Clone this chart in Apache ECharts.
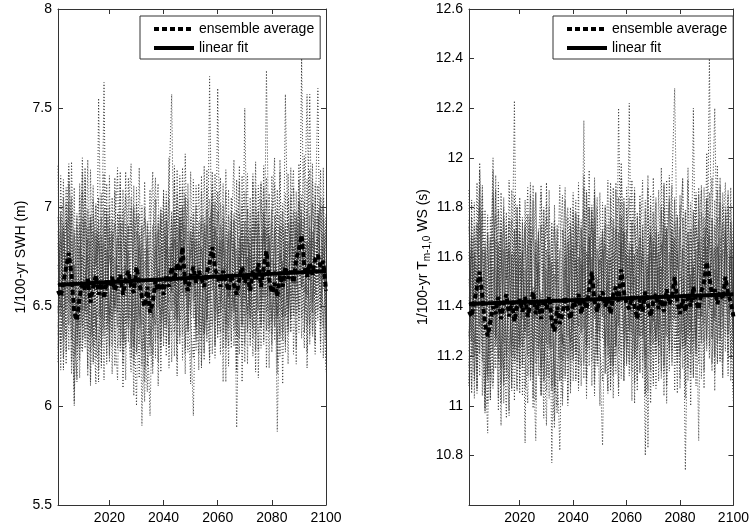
<!DOCTYPE html>
<html><head><meta charset="utf-8">
<script src="https://cdn.jsdelivr.net/npm/echarts@6/dist/echarts.min.js"></script>
<style>html,body{margin:0;padding:0;background:#fff}#c{width:752px;height:528px}</style>
</head><body><div id="c"></div>
<script>
const startYear = 2001, endYear = 2100;
const xTicks = [2020, 2040, 2060, 2080, 2100];
const yTicksL = [5.5, 6, 6.5, 7, 7.5, 8];
const yTicksR = [10.8, 11, 11.2, 11.4, 11.6, 11.8, 12, 12.2, 12.4, 12.6];
const legendNames = ['ensemble average', 'linear fit'];
const yNameL = '1/100-yr SWH (m)';

// left panel: ensemble average
const avgL = [
6.58,6.55,6.62,6.70,6.77,6.66,6.47,6.43,6.55,6.62,
6.58,6.64,6.52,6.60,6.66,6.56,6.62,6.54,6.63,6.60,
6.65,6.58,6.62,6.66,6.56,6.64,6.68,6.60,6.57,6.70,
6.62,6.55,6.50,6.60,6.47,6.52,6.63,6.58,6.64,6.56,
6.66,6.60,6.70,6.63,6.72,6.68,6.80,6.62,6.58,6.66,
6.70,6.62,6.68,6.64,6.60,6.67,6.72,6.80,6.69,6.65,
6.60,6.68,6.63,6.58,6.66,6.61,6.56,6.64,6.70,6.62,
6.66,6.58,6.68,6.63,6.72,6.60,6.70,6.78,6.64,6.57,
6.62,6.55,6.66,6.60,6.70,6.64,6.68,6.62,6.74,6.79,
6.86,6.70,6.65,6.72,6.66,6.74,6.76,6.70,6.73,6.58];
const fitL = [6.61, 6.68];
const m1L = [
6.82,6.31,7.05,6.48,6.95,6.22,6.71,6.40,7.12,6.55,
6.34,6.90,6.27,6.78,7.02,6.45,6.61,7.63,6.38,6.85,
6.52,7.08,6.29,6.66,6.93,6.41,7.15,6.58,6.20,6.74,
6.97,5.90,6.63,6.85,6.36,6.72,7.04,6.49,6.81,6.30,
6.68,7.11,7.57,6.44,6.90,6.35,7.20,6.62,6.27,6.95,
6.53,6.84,6.41,7.08,6.69,6.32,7.66,6.58,6.88,6.46,
7.02,6.37,6.79,6.55,6.98,6.30,6.72,7.13,6.50,6.86,
6.39,7.05,6.62,6.93,6.28,6.81,7.10,6.47,6.75,6.99,
6.33,6.70,7.18,6.52,6.89,6.40,7.06,6.61,6.95,6.48,
7.75,6.57,6.82,6.36,7.14,6.68,6.43,7.01,6.59,6.88];
const m2L = [
6.40,6.95,6.18,6.86,7.22,6.57,6.02,6.91,6.45,7.08,
6.72,6.19,6.83,6.50,6.11,7.55,6.68,6.35,6.94,6.42,
6.88,6.33,6.97,6.49,6.21,6.86,6.44,7.05,6.73,6.26,
6.58,6.91,6.12,6.67,7.09,6.38,6.54,6.96,6.28,6.79,
7.03,6.47,6.36,6.99,6.55,7.16,6.48,6.82,7.04,6.40,
5.95,6.71,7.12,6.38,6.92,6.59,6.24,6.97,6.43,7.08,
6.65,7.12,6.29,6.84,6.48,6.93,5.89,6.66,7.01,6.45,
6.90,6.51,7.17,6.36,6.74,7.04,6.42,7.69,6.60,6.31,
6.96,5.87,6.64,7.02,6.45,6.83,6.55,7.10,6.69,7.03,
6.44,6.93,7.57,6.70,6.38,7.06,6.78,6.49,6.94,6.33];
const m3L = [
6.71,6.50,6.88,6.27,6.60,7.05,6.38,6.14,6.80,6.33,
7.15,6.46,6.92,6.21,6.67,6.94,6.30,6.82,6.56,7.01,
6.37,6.75,6.52,7.12,6.43,6.29,6.90,6.36,6.99,6.48,
6.31,6.78,6.95,6.40,5.95,6.63,6.87,6.22,6.73,7.06,
6.42,6.80,6.58,7.14,6.31,6.88,6.57,7.07,6.49,6.77,
6.91,6.33,6.74,6.96,6.36,7.10,6.52,6.86,6.30,7.60,
6.44,6.76,7.08,6.39,6.88,6.62,6.35,6.97,6.41,7.50,
6.58,6.82,6.34,7.09,6.67,6.42,6.91,6.72,6.37,6.85,
7.12,6.46,6.78,6.33,7.57,6.71,6.44,6.98,6.53,6.81,
7.06,6.37,6.69,7.57,6.52,6.90,7.60,6.41,6.77,6.56];
const m4L = [
6.29,6.88,6.55,7.10,6.41,6.83,6.58,6.97,6.23,6.76,
6.48,6.99,6.60,6.35,6.86,6.18,7.07,6.43,6.79,6.25,
6.94,6.47,6.71,6.30,6.84,7.06,6.39,6.66,6.05,7.10,
6.45,6.62,6.28,6.93,6.57,6.20,6.70,6.88,6.42,6.97,
6.31,6.74,6.95,6.37,6.82,6.55,6.92,6.29,6.71,6.50,
6.83,6.47,6.26,6.79,6.58,6.91,6.68,6.40,7.02,6.36,
6.80,6.49,6.93,6.71,6.33,6.85,6.58,6.26,6.89,6.61,
7.02,6.30,6.76,6.52,7.11,6.39,6.88,6.55,6.96,6.27,
6.72,6.58,6.35,6.91,6.62,7.04,6.37,6.80,6.46,7.22,
6.60,6.95,6.40,6.84,6.73,6.31,6.97,6.66,6.48,6.21];
const m5L = [
6.95,6.62,6.33,6.77,6.52,6.98,6.00,6.71,6.88,6.29,
6.63,6.84,6.12,7.04,6.40,6.70,6.95,6.51,6.26,6.90,
6.44,6.61,6.85,6.37,7.09,6.55,6.78,6.24,6.82,6.96,
6.70,6.35,6.02,6.79,6.46,6.91,6.32,6.75,7.00,6.53,
6.86,6.29,6.77,6.60,7.03,6.43,6.99,6.71,6.38,6.88,
6.60,7.01,6.55,6.33,6.95,6.44,6.81,7.12,6.65,6.52,
6.37,6.95,6.57,6.30,7.05,6.47,6.79,6.60,6.92,6.31,
6.75,6.44,6.99,6.66,6.48,7.13,6.55,6.87,6.60,6.42,
6.59,6.99,6.48,6.73,6.31,6.92,6.81,6.45,7.08,6.66,
6.98,6.47,6.75,6.63,7.02,6.56,6.88,7.05,6.39,6.70];
const m6L = [
6.50,6.27,6.80,6.93,6.71,6.44,6.86,6.30,6.62,7.25,
6.56,6.39,6.95,6.73,6.47,6.12,6.81,6.58,7.00,6.46,
6.79,6.92,6.40,6.83,6.55,6.71,6.32,6.93,6.49,6.00,
6.87,6.54,6.73,6.20,6.62,6.45,6.81,6.57,6.94,6.39,
6.97,6.52,6.85,6.73,6.44,7.00,6.64,6.91,6.41,6.79,
6.72,6.40,6.93,6.66,6.23,6.85,7.04,6.62,6.90,6.77,
6.52,6.84,6.41,6.96,6.70,6.38,6.99,6.55,6.82,6.67,
6.46,6.89,6.58,7.00,6.77,6.49,6.66,7.04,6.55,6.92,
6.44,6.79,6.90,6.58,6.76,6.49,6.95,6.72,6.60,6.92,
6.70,6.84,6.56,6.96,6.47,6.83,6.61,6.92,7.01,6.45];
const m7L = [
6.36,6.74,6.92,6.60,7.18,6.88,6.25,6.54,6.41,6.83,
6.97,6.70,6.48,6.30,6.89,6.62,6.44,6.91,6.69,6.37,
6.75,6.50,6.88,6.96,6.33,6.69,6.91,6.45,6.52,7.02,
6.67,6.28,6.45,6.57,6.30,6.49,6.41,6.69,6.58,6.43,
6.79,6.63,6.92,6.51,7.07,6.83,6.95,6.57,6.66,6.46,
6.88,6.65,6.70,6.51,6.36,6.47,6.93,7.02,6.74,6.40,
6.58,6.70,6.66,6.49,6.72,6.82,6.40,6.75,6.63,6.54,
6.85,6.60,6.53,6.46,6.92,6.57,6.71,6.94,6.82,6.59,
6.68,6.44,6.60,6.45,6.64,6.70,6.77,6.47,6.88,6.76,
6.91,6.72,6.54,6.68,6.80,6.94,6.71,6.64,6.80,6.60];
const m8L = [
6.61,6.83,6.40,6.77,7.03,6.60,6.71,6.48,6.36,6.27,
6.52,6.76,6.35,6.96,6.71,6.83,6.53,6.39,6.60,6.76,
6.62,6.50,6.77,6.92,6.41,6.82,6.69,6.63,6.30,6.65,
6.80,6.58,6.79,6.60,6.55,6.44,6.91,6.56,6.46,6.61,
6.93,6.68,6.57,6.84,6.60,6.71,7.01,6.55,6.69,6.85,
6.74,6.55,6.68,6.80,6.61,6.52,6.55,7.18,6.80,6.71,
6.83,6.57,6.72,6.55,6.63,6.49,6.65,6.77,6.89,6.56,
6.48,6.72,6.85,6.73,6.66,6.54,6.97,6.69,6.40,6.74,
6.62,6.45,6.77,6.67,6.93,6.47,6.86,6.70,6.62,7.04,
6.59,6.73,6.83,6.70,6.88,6.62,6.85,6.79,6.64,6.95];
const m9L = [
7.21,6.18,6.90,6.35,7.12,6.47,6.08,6.95,6.29,7.18,
6.45,7.24,6.10,6.88,6.33,7.05,6.22,6.99,6.41,7.16,
6.16,6.84,7.20,6.27,6.70,6.13,6.96,7.22,6.38,6.79,
6.14,7.01,6.33,6.07,6.83,7.18,6.24,6.92,6.17,7.09,
6.40,7.25,6.22,6.94,6.15,7.10,6.36,7.27,6.58,6.11,
7.14,6.28,6.88,6.19,7.21,6.43,6.95,6.26,7.17,6.34,
6.91,6.12,7.19,6.42,6.85,7.24,6.17,6.79,6.30,7.08,
6.21,6.97,6.39,7.23,6.14,6.86,6.31,7.15,6.48,6.95,
7.25,6.22,6.91,6.11,7.07,6.38,7.20,6.26,6.89,6.43,
6.98,7.26,6.19,6.90,6.35,7.12,6.48,7.19,6.24,6.97];
const m10L = [
6.22,7.16,6.45,7.02,6.28,7.23,6.54,6.12,7.06,6.40,
6.93,6.15,7.19,6.44,7.01,6.26,6.86,6.13,7.12,6.30,
7.05,6.20,6.63,7.18,6.09,6.92,6.38,6.17,7.11,6.27,
7.20,6.41,7.00,6.70,6.25,6.82,7.15,6.10,6.97,6.35,
7.08,6.19,6.82,6.25,7.19,6.31,6.84,6.16,7.12,6.40,
6.24,6.90,6.18,7.16,6.37,6.99,6.21,6.91,6.48,6.98,
6.26,7.01,6.12,7.09,6.29,6.94,6.47,7.21,6.12,6.84,
7.17,6.33,6.91,6.17,6.98,6.29,7.21,6.19,7.07,6.36,
6.90,6.16,7.24,6.37,6.83,6.21,6.99,7.19,6.29,6.88,
6.34,7.03,6.27,7.19,6.57,6.26,7.11,6.32,7.20,6.17];
const m11L = [
6.88,6.45,7.14,6.21,6.86,6.33,7.10,6.26,6.92,6.48,
7.20,6.32,6.74,7.11,6.24,6.87,6.36,7.17,6.21,6.96,
6.30,7.15,6.47,6.92,6.26,7.18,6.55,6.29,7.01,6.42,
6.86,6.20,7.13,6.49,6.88,6.26,6.95,7.12,6.33,6.90,
6.25,7.04,6.48,7.21,6.42,6.95,6.23,7.05,6.37,7.18,
6.44,7.11,6.36,6.92,6.27,7.19,6.38,7.07,6.31,6.89,
7.15,6.29,6.86,6.20,6.93,6.52,7.14,6.34,7.16,6.22,
6.99,6.41,7.13,6.28,6.96,7.12,6.33,6.90,6.19,7.16,
6.40,7.09,6.25,6.98,6.27,7.17,6.38,6.93,6.21,7.14,
6.55,6.29,7.14,6.41,7.22,6.33,6.96,6.27,7.05,6.42];
const m12L = [
6.47,6.98,6.24,6.62,7.00,6.16,6.89,6.58,6.14,6.95,
6.29,6.81,6.96,6.22,6.75,6.91,6.19,6.68,6.97,6.22,
6.86,6.38,6.13,6.81,6.99,6.31,6.76,7.00,6.24,6.88,
6.39,6.82,6.18,6.91,6.41,6.16,6.78,6.34,6.99,6.46,
6.83,6.31,6.98,6.66,6.23,6.79,7.10,6.26,6.88,6.57,
6.97,6.39,6.83,6.21,6.87,6.35,6.80,6.99,6.24,6.85,
6.47,6.90,6.33,6.88,6.44,6.97,6.18,6.85,6.40,6.93,
6.37,6.79,6.25,6.95,6.51,6.40,6.99,6.38,6.86,6.44,
6.88,6.32,6.96,6.45,6.79,6.36,6.92,6.53,6.98,6.37,
6.94,6.42,6.99,6.31,6.85,6.46,6.99,6.53,6.87,6.33];

// right panel
const avgR = [
11.38,11.36,11.42,11.48,11.54,11.44,11.33,11.28,11.34,11.40,
11.37,11.44,11.35,11.41,11.45,11.36,11.42,11.34,11.40,11.43,
11.38,11.44,11.36,11.41,11.46,11.37,11.42,11.35,11.43,11.39,
11.44,11.34,11.30,11.40,11.33,11.37,11.44,11.39,11.35,11.42,
11.40,11.45,11.37,11.43,11.39,11.47,11.54,11.42,11.38,11.44,
11.46,11.40,11.43,11.37,11.45,11.48,11.42,11.55,11.46,11.41,
11.39,11.44,11.40,11.35,11.43,11.38,11.46,11.41,11.36,11.42,
11.45,11.39,11.43,11.38,11.47,11.41,11.44,11.52,11.42,11.37,
11.43,11.38,11.45,11.40,11.48,11.42,11.39,11.46,11.50,11.58,
11.52,11.44,11.47,11.41,11.46,11.43,11.52,11.45,11.42,11.36];
const fitR = [11.41, 11.45];
const m1R = [
11.72,11.20,11.58,11.05,11.95,11.31,11.62,11.14,11.49,12.00,
11.27,11.66,11.09,11.54,11.78,11.22,11.43,12.23,11.18,11.60,
11.35,11.74,11.12,11.51,11.83,11.26,11.69,11.04,11.57,11.33,
11.80,10.77,11.46,11.71,11.19,11.55,11.88,11.28,11.63,11.10,
11.52,11.77,11.30,12.15,11.21,11.68,11.40,11.84,11.16,11.59,
11.36,11.73,11.24,11.90,11.47,11.13,12.20,11.39,11.70,11.26,
12.22,11.18,11.61,11.35,11.82,11.11,11.53,11.93,11.29,11.66,
11.20,11.87,11.44,11.73,11.08,11.62,11.90,12.28,11.55,11.81,
11.15,11.48,11.96,11.32,12.20,11.23,11.85,11.41,11.76,11.27,
12.40,11.35,11.64,11.17,11.92,11.46,11.22,11.80,11.38,11.67];
const m2R = [
11.22,11.76,11.03,11.65,11.88,11.37,10.99,11.70,11.25,11.84,
11.52,10.98,11.63,11.30,10.95,11.91,11.48,11.17,11.75,11.24,
11.68,10.85,11.77,11.29,11.03,11.66,11.23,11.86,11.52,11.06,
11.39,11.72,10.94,11.47,11.89,11.18,11.34,11.76,11.08,11.58,
11.83,11.27,11.16,11.79,11.35,11.95,11.27,11.62,11.84,11.20,
10.84,11.51,11.91,11.17,11.72,11.39,11.04,11.76,11.23,11.88,
11.45,11.91,11.09,11.64,11.28,11.73,10.80,11.46,11.81,11.25,
11.70,11.31,11.96,11.16,11.54,11.84,11.22,11.68,11.40,11.11,
11.76,10.74,11.44,11.82,11.25,11.63,11.35,11.89,11.49,11.83,
11.24,11.73,12.20,11.50,11.18,11.86,11.58,11.29,11.74,11.13];
const m3R = [
11.51,11.30,11.68,11.07,11.40,11.85,11.18,10.89,11.60,11.13,
11.93,11.26,11.72,11.01,11.47,11.74,11.10,11.62,11.36,11.81,
11.17,11.55,11.32,11.90,11.23,10.86,11.70,11.16,11.79,11.28,
11.11,11.58,11.75,11.20,10.82,11.43,11.67,11.02,11.53,11.86,
11.22,11.60,11.38,11.93,11.11,11.68,11.37,11.87,11.29,11.57,
11.71,11.13,11.54,11.76,11.16,11.90,11.32,11.66,11.10,11.80,
11.24,11.56,11.88,11.19,11.68,11.42,11.15,11.77,11.21,11.92,
11.38,11.62,11.14,11.89,11.47,11.22,11.71,11.52,11.17,11.65,
11.92,11.26,11.58,11.13,11.79,11.51,10.86,11.78,11.33,11.61,
11.86,11.17,11.49,11.97,11.32,11.70,11.90,11.21,11.57,11.36];
const m4R = [
11.09,11.68,11.35,11.90,11.21,11.63,11.38,11.77,11.03,11.56,
11.28,11.79,11.40,11.15,11.66,10.98,11.87,11.23,11.59,11.05,
11.74,11.27,11.51,11.10,11.64,11.86,11.19,11.46,10.95,11.90,
11.25,11.42,11.08,11.73,11.37,11.00,11.50,11.68,11.22,11.77,
11.11,11.54,11.75,11.17,11.62,11.35,11.72,11.09,11.51,11.30,
11.63,11.27,11.06,11.59,11.38,11.71,11.48,11.20,11.82,11.16,
11.60,11.29,11.73,11.51,11.13,11.65,11.38,11.06,11.69,11.41,
11.82,11.10,11.56,11.32,11.91,11.19,11.68,11.35,11.76,11.07,
11.52,11.38,11.15,11.71,11.42,11.84,11.17,11.60,11.26,12.02,
11.40,11.75,11.20,11.64,11.53,11.11,11.77,11.46,11.28,11.01];
const m5R = [
11.75,11.42,11.13,11.57,11.32,11.78,10.97,11.51,11.68,11.09,
11.43,11.64,10.92,11.84,11.20,11.50,11.75,11.31,11.06,11.70,
11.24,11.41,11.65,11.17,11.89,11.35,11.58,11.04,11.62,11.76,
11.50,11.15,10.91,11.59,11.26,11.71,11.12,11.55,11.80,11.33,
11.66,11.09,11.57,11.40,11.83,11.23,11.79,11.51,11.18,11.68,
11.40,11.81,11.35,11.13,11.75,11.24,11.61,11.92,11.45,11.32,
11.17,11.75,11.37,11.10,11.85,11.27,11.59,11.40,11.72,11.11,
11.55,11.24,11.79,11.46,11.28,11.93,11.35,11.67,11.40,11.22,
11.39,11.79,11.28,11.53,11.11,11.72,11.61,11.25,11.88,11.46,
11.78,11.27,11.55,11.43,11.82,11.36,11.68,11.85,11.19,11.50];
const m6R = [
11.30,11.07,11.60,11.73,11.51,11.24,11.66,11.10,11.42,11.95,
11.36,11.19,11.75,11.53,11.27,10.96,11.61,11.38,11.80,11.26,
11.59,11.72,11.20,11.63,11.35,11.51,11.12,11.73,11.29,10.92,
11.67,11.34,11.53,11.00,11.42,11.25,11.61,11.37,11.74,11.19,
11.77,11.32,11.65,11.53,11.24,11.80,11.44,11.71,11.21,11.59,
11.52,11.20,11.73,11.46,11.03,11.65,11.84,11.42,11.70,11.57,
11.32,11.64,11.21,11.76,11.50,11.18,11.79,10.83,11.62,11.47,
11.26,11.69,11.38,11.80,11.57,11.29,11.46,11.84,11.35,11.72,
11.24,11.59,11.70,11.38,11.56,11.29,11.75,11.52,11.40,11.72,
11.50,11.64,11.36,11.76,11.27,11.63,11.41,11.72,11.81,11.25];
const m7R = [
11.16,11.54,11.72,11.40,11.98,11.68,11.05,11.34,11.21,11.63,
11.77,11.50,11.28,11.10,11.69,11.42,11.24,11.71,11.49,11.17,
11.55,11.30,11.68,11.76,11.13,11.49,11.71,11.25,11.32,11.82,
11.47,11.08,11.25,11.37,11.10,11.29,11.21,11.49,11.38,11.23,
11.59,11.43,11.72,11.31,11.87,11.63,11.75,11.37,11.46,11.26,
11.68,11.45,11.50,11.31,11.16,11.27,11.73,11.82,11.54,11.20,
11.38,11.50,11.46,11.29,11.52,11.62,11.20,11.55,11.43,11.34,
11.65,11.40,11.33,11.26,11.72,11.37,11.51,11.74,11.62,11.39,
11.48,11.24,11.40,11.25,11.44,11.50,11.57,11.27,11.68,11.56,
11.71,11.52,11.34,11.48,11.60,11.74,11.51,11.44,11.60,11.40];
const m8R = [
11.41,11.63,11.20,11.57,11.83,11.40,11.51,11.28,11.16,11.07,
11.32,11.56,11.15,11.76,11.51,11.63,11.33,11.19,11.40,11.56,
11.42,11.30,11.57,11.72,11.21,11.62,11.49,11.43,11.10,11.45,
11.60,11.38,11.59,11.40,11.35,11.24,11.71,11.36,11.26,11.41,
11.73,11.48,11.37,11.64,11.40,11.51,11.81,11.35,11.49,11.65,
11.54,11.35,11.48,11.60,11.41,11.32,11.35,11.98,11.60,11.51,
11.63,11.37,11.52,11.35,11.43,11.29,11.45,11.57,11.69,11.36,
11.28,11.52,11.65,11.53,11.46,11.34,11.77,11.49,11.20,11.54,
11.42,11.25,11.57,11.47,11.73,11.27,11.66,11.50,11.42,11.84,
11.39,11.53,11.63,11.50,11.68,11.42,11.65,11.59,11.44,11.75];
const m9R = [
11.87,11.05,11.62,11.15,11.80,11.26,10.98,11.69,11.12,11.86,
11.24,11.90,11.01,11.63,11.14,11.76,11.07,11.71,11.22,11.84,
11.04,11.59,11.88,11.12,11.48,11.02,11.67,11.89,11.18,11.55,
11.03,11.74,11.15,10.97,11.60,11.85,11.10,11.66,11.05,11.79,
11.21,11.90,11.08,11.68,11.03,11.80,11.18,11.92,11.37,11.00,
11.82,11.13,11.63,11.06,11.88,11.24,11.70,11.11,11.84,11.17,
11.66,11.02,11.86,11.23,11.61,11.91,11.04,11.57,11.14,11.78,
11.07,11.70,11.20,11.90,11.01,11.62,11.16,11.83,11.28,11.70,
11.91,11.08,11.66,11.00,11.77,11.20,11.88,11.11,11.64,11.24,
11.71,11.92,11.06,11.65,11.18,11.81,11.28,11.87,11.10,11.71];
const m10R = [
11.08,11.83,11.25,11.74,11.12,11.89,11.33,11.01,11.76,11.22,
11.67,11.03,11.86,11.25,11.73,11.11,11.62,11.02,11.81,11.15,
11.76,11.07,11.44,11.85,10.99,11.67,11.20,11.05,11.80,11.12,
11.87,11.23,11.72,11.49,11.10,11.58,11.83,11.00,11.70,11.18,
11.78,11.06,11.59,11.11,11.86,11.16,11.60,11.04,11.80,11.22,
11.10,11.65,11.05,11.84,11.20,11.72,11.08,11.66,11.29,11.71,
11.12,11.74,11.01,11.78,11.14,11.68,11.28,11.88,11.01,11.60,
11.84,11.17,11.66,11.04,11.71,11.14,11.89,11.06,11.77,11.20,
11.65,11.03,11.91,11.21,11.59,11.08,11.72,11.87,11.14,11.64,
11.19,11.76,11.13,11.87,11.38,11.12,11.80,11.17,11.88,11.05];
const m11R = [
11.62,11.26,11.82,11.07,11.61,11.18,11.79,11.12,11.66,11.29,
11.87,11.17,11.52,11.80,11.10,11.62,11.20,11.85,11.07,11.70,
11.15,11.83,11.28,11.67,11.11,11.86,11.35,11.14,11.74,11.25,
11.61,11.06,11.81,11.30,11.63,11.11,11.69,11.80,11.18,11.65,
11.10,11.75,11.29,11.88,11.25,11.69,11.08,11.76,11.21,11.86,
11.27,11.80,11.20,11.67,11.12,11.87,11.22,11.77,11.16,11.64,
11.84,11.14,11.61,11.06,11.68,11.33,11.83,11.19,11.85,11.08,
11.72,11.24,11.81,11.13,11.70,11.82,11.18,11.65,11.05,11.85,
11.23,11.78,11.10,11.71,11.12,11.86,11.22,11.68,11.07,11.83,
11.36,11.14,11.83,11.25,11.89,11.18,11.70,11.12,11.75,11.26];
const m12R = [
11.28,11.70,11.10,11.43,11.72,11.04,11.64,11.39,11.02,11.69,
11.15,11.58,11.70,11.08,11.52,11.66,11.06,11.47,11.71,11.09,
11.62,11.22,11.01,11.58,11.72,11.17,11.53,11.73,11.10,11.63,
11.23,11.58,11.05,11.66,11.25,11.03,11.55,11.19,11.72,11.30,
11.59,11.17,11.71,11.45,11.09,11.56,11.79,11.12,11.63,11.38,
11.70,11.24,11.59,11.08,11.62,11.20,11.57,11.72,11.10,11.61,
11.30,11.65,11.19,11.63,11.28,11.71,11.05,11.61,11.25,11.68,
11.22,11.56,11.11,11.69,11.34,11.25,11.72,11.23,11.62,11.29,
11.63,11.18,11.70,11.30,11.56,11.21,11.67,11.36,11.72,11.22,
11.68,11.27,11.73,11.17,11.61,11.31,11.73,11.37,11.63,11.19];

const membersL = [m1L, m2L, m3L, m4L, m5L, m6L, m7L, m8L, m9L, m10L, m11L, m12L];
const membersR = [m1R, m2R, m3R, m4R, m5R, m6R, m7R, m8R, m9R, m10R, m11R, m12R];

const years = [];
for (let y = startYear; y <= endYear; y++) years.push(y);
const pairs = arr => arr.map((v, i) => [years[i], v]);

const FONT = 'Liberation Sans, Arial, sans-serif';
const AX = '#333';

function xAx(gi, pos, labels) {
  return {
    type: 'value', gridIndex: gi, position: pos, min: startYear, max: endYear,
    axisLine: { show: true, onZero: false, lineStyle: { color: AX, width: 1 } },
    axisTick: { show: true, inside: true, length: 5, customValues: xTicks, lineStyle: { color: AX } },
    axisLabel: { show: labels, customValues: xTicks, formatter: v => String(v), color: '#000', fontSize: 14, fontFamily: FONT, margin: 6 },
    splitLine: { show: false }
  };
}
function yAx(gi, pos, min, max, ticks, labels, extra) {
  return Object.assign({
    type: 'value', gridIndex: gi, position: pos, min: min, max: max,
    axisLine: { show: true, onZero: false, lineStyle: { color: AX, width: 1 } },
    axisTick: { show: true, inside: true, length: 5, customValues: ticks, lineStyle: { color: AX } },
    axisLabel: { show: labels, customValues: ticks, formatter: v => String(v), color: '#000', fontSize: 14, fontFamily: FONT, margin: 6 },
    splitLine: { show: false }
  }, extra || {});
}

const series = [];
function addPanel(members, avg, fit, xi, yi) {
  members.forEach((m, k) => series.push({
    type: 'line', name: 'member' + (k + 1), xAxisIndex: xi, yAxisIndex: yi,
    data: pairs(m), showSymbol: false, symbol: 'none', silent: true, z: 1,
    lineStyle: { color: '#3a3a3a', width: 1, type: [1, 2] }
  }));
  series.push({
    type: 'line', name: legendNames[0], xAxisIndex: xi, yAxisIndex: yi,
    data: pairs(avg), showSymbol: false, symbol: 'none', z: 3,
    itemStyle: { color: '#000' },
    lineStyle: { color: '#000', width: 4, type: [5, 3] }
  });
  series.push({
    type: 'line', name: legendNames[1], xAxisIndex: xi, yAxisIndex: yi,
    data: [[startYear, fit[0]], [endYear, fit[1]]], showSymbol: false, symbol: 'none', z: 4,
    itemStyle: { color: '#000' },
    lineStyle: { color: '#000', width: 4 }
  });
}
addPanel(membersL, avgL, fitL, 0, 0);
addPanel(membersR, avgR, fitR, 2, 2);

function legendAt(left) {
  return {
    left: left, top: 16, orient: 'vertical', data: legendNames, selectedMode: false,
    backgroundColor: '#fff', borderColor: AX, borderWidth: 1, borderRadius: 0,
    padding: [6, 6, 4, 12], itemGap: 5, itemWidth: 40, itemHeight: 14,
    itemStyle: { opacity: 0, borderWidth: 0 },
    lineStyle: { width: 4 },
    textStyle: { fontSize: 14, color: '#000', fontFamily: FONT }
  };
}

const chart = echarts.init(document.getElementById('c'), null, { renderer: 'canvas' });
chart.setOption({
  animation: false,
  backgroundColor: '#fff',
  grid: [
    { left: 58, top: 9, width: 268, height: 496 },
    { left: 469, top: 9, width: 269, height: 496 }
  ],
  xAxis: [xAx(0, 'bottom', true), xAx(0, 'top', false), xAx(1, 'bottom', true), xAx(1, 'top', false)],
  yAxis: [
    yAx(0, 'left', 5.5, 8, yTicksL, true, {
      name: yNameL, nameLocation: 'middle', nameGap: 30,
      nameTextStyle: { fontSize: 14, color: '#000', fontFamily: FONT }
    }),
    yAx(0, 'right', 5.5, 8, yTicksL, false),
    yAx(1, 'left', 10.6, 12.6, yTicksR, true, {
      name: '{a|1/100-yr T}{s|m-1,0}{a| WS (s)}', nameLocation: 'middle', nameGap: 30,
      nameTextStyle: {
        fontSize: 14, color: '#000', fontFamily: FONT,
        rich: {
          a: { fontSize: 14, fontFamily: FONT, color: '#000', lineHeight: 16, verticalAlign: 'top' },
          s: { fontSize: 10, fontFamily: FONT, color: '#000', lineHeight: 12, verticalAlign: 'bottom', padding: [8, 0, 0, 0] }
        }
      }
    }),
    yAx(1, 'right', 10.6, 12.6, yTicksR, false)
  ],
  legend: [legendAt(140), legendAt(553)],
  series: series
});
</script>
</body></html>
